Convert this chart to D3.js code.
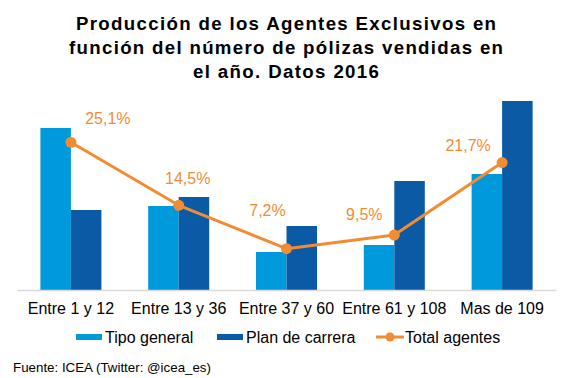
<!DOCTYPE html>
<html>
<head>
<meta charset="utf-8">
<script src="https://cdn.jsdelivr.net/npm/d3@7"></script>
<style>
  html, body { margin: 0; padding: 0; background: #fff; }
  svg { display: block; font-family: "Liberation Sans", Arial, sans-serif; }
</style>
</head>
<body>
<svg id="chart" width="567" height="378"></svg>
<script>
// ---- data ----
const categories = ["Entre 1 y 12", "Entre 13 y 36", "Entre 37 y 60", "Entre 61 y 108", "Mas de 109"];
const tipoGeneral = [162, 84, 38, 45, 116];
const planCarrera = [80, 93, 64, 109, 189];
const totalAgentes = [25.1, 14.5, 7.2, 9.5, 21.7];
const totalLabels = ["25,1%", "14,5%", "7,2%", "9,5%", "21,7%"];
const seriesNames = ["Tipo general", "Plan de carrera", "Total agentes"];
const titleLines = ["Producción de los Agentes Exclusivos en", "función del número de pólizas vendidas en", "el año. Datos 2016"];
const sourceText = "Fuente: ICEA (Twitter: @icea_es)";

// ---- layout ----
const colors = { light: "#0099DB", dark: "#0A5AA6", orange: "#F28C33", axis: "#D9D9D9", text: "#000" };
const labelOffsets = [[37, -18], [9, -21], [-19, -33], [-30, -15], [-34, -12]];
const titleWidths = [420, 434, 186];

const svg = d3.select("#chart");

const x0 = d3.scaleBand().domain(categories).range([17, 556]).paddingInner(0.434).paddingOuter(0.217);
const x1 = d3.scaleBand().domain(["tg", "pc"]).range([0, x0.bandwidth()]);
const y = d3.scaleLinear().domain([0, 190]).range([290, 100]);
const y2 = d3.scaleLinear().domain([0, 32]).range([291.5, 101.3]);

// title
titleLines.forEach((t, i) => {
  svg.append("text").attr("x", 286).attr("y", 30 + i * 24).attr("text-anchor", "middle")
    .attr("font-size", "18.67px").attr("font-weight", "bold").attr("fill", colors.text)
    .attr("textLength", titleWidths[i]).attr("lengthAdjust", "spacing")
    .text(t);
});

// bars
const groups = svg.append("g").selectAll("g").data(categories).join("g")
  .attr("transform", d => `translate(${x0(d)},0)`);
groups.append("rect")
  .attr("x", x1("tg")).attr("width", x1.bandwidth())
  .attr("y", (d, i) => y(tipoGeneral[i])).attr("height", (d, i) => y(0) - y(tipoGeneral[i]))
  .attr("fill", colors.light);
groups.append("rect")
  .attr("x", x1("pc")).attr("width", x1.bandwidth())
  .attr("y", (d, i) => y(planCarrera[i])).attr("height", (d, i) => y(0) - y(planCarrera[i]))
  .attr("fill", colors.dark);

// x axis
const xAxis = d3.axisBottom(x0).tickSize(0).tickPadding(12);
const gx = svg.append("g").attr("transform", `translate(0,${y(0)})`).call(xAxis);
gx.select(".domain").attr("stroke", colors.axis).attr("stroke-width", 1.5);
gx.selectAll("text").attr("font-size", "16px").attr("fill", colors.text)
  .attr("font-family", "Liberation Sans, Arial, sans-serif").attr("dy", "0.35em").attr("y", 18.5);

// line
const cx = d => x0(d) + x0.bandwidth() / 2;
const line = d3.line().x((d, i) => cx(categories[i])).y(d => y2(d));
svg.append("path").datum(totalAgentes).attr("d", line)
  .attr("fill", "none").attr("stroke", colors.orange).attr("stroke-width", 3).attr("stroke-linejoin", "round");
svg.append("g").selectAll("circle").data(totalAgentes).join("circle")
  .attr("cx", (d, i) => cx(categories[i])).attr("cy", d => y2(d)).attr("r", 5.5)
  .attr("fill", colors.orange);
svg.append("g").selectAll("text").data(totalAgentes).join("text")
  .attr("x", (d, i) => cx(categories[i]) + labelOffsets[i][0])
  .attr("y", (d, i) => y2(d) + labelOffsets[i][1])
  .attr("text-anchor", "middle").attr("font-size", "16px").attr("fill", colors.orange)
  .text((d, i) => totalLabels[i]);

// legend
const legend = svg.append("g").attr("font-size", "16px").attr("fill", colors.text);
const legendItems = [
  { x: 76, type: "rect", color: colors.light, name: seriesNames[0] },
  { x: 217, type: "rect", color: colors.dark, name: seriesNames[1] },
  { x: 376, type: "line", color: colors.orange, name: seriesNames[2] }
];
legendItems.forEach(it => {
  if (it.type === "rect") {
    legend.append("rect").attr("x", it.x).attr("y", 334).attr("width", 26).attr("height", 6).attr("fill", it.color);
  } else {
    legend.append("line").attr("x1", it.x).attr("x2", it.x + 28).attr("y1", 337).attr("y2", 337)
      .attr("stroke", it.color).attr("stroke-width", 3);
    legend.append("circle").attr("cx", it.x + 14).attr("cy", 337).attr("r", 4.5).attr("fill", it.color);
  }
  legend.append("text").attr("x", it.x + 29).attr("y", 342.5).text(it.name);
});

// source
svg.append("text").attr("x", 13).attr("y", 372).attr("font-size", "13.33px").attr("fill", colors.text).text(sourceText);
</script>
</body>
</html>
